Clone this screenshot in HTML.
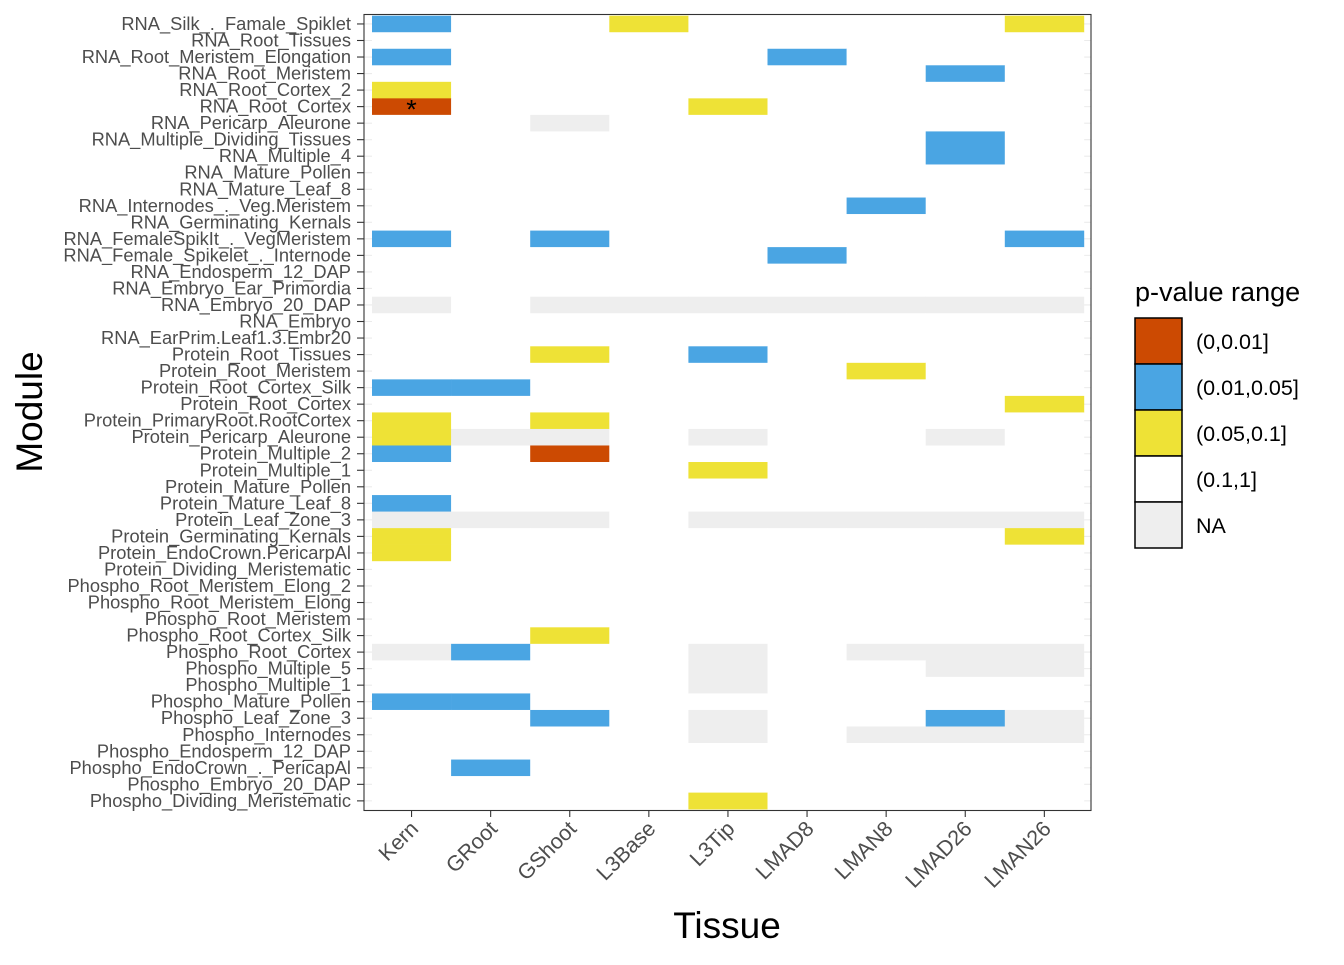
<!DOCTYPE html>
<html><head><meta charset="utf-8">
<style>
html,body{margin:0;padding:0;background:#fff;}
svg text{font-family:"Liberation Sans",Arial,sans-serif;}
</style></head>
<body>
<svg id="chart" width="1344" height="960" xmlns="http://www.w3.org/2000/svg">
  <g id="grid"></g>
  <g id="tiles"></g>
  <rect x="364" y="14.5" width="727" height="796" fill="none" stroke="#333" stroke-width="1.1"/>
  <g id="yaxis"></g>
  <g id="xaxis"></g>
  <text x="727" y="938" font-size="37" text-anchor="middle" fill="#000">Tissue</text>
  <text x="42" y="412" font-size="37" text-anchor="middle" fill="#000" transform="rotate(-90 42 412)">Module</text>
  <g id="legend">
    <text x="1135" y="301" font-size="27" fill="#000">p-value range</text>
  </g>
</svg>
<script>
const tissues = ["Kern","GRoot","GShoot","L3Base","L3Tip","LMAD8","LMAN8","LMAD26","LMAN26"];
const modules = ["RNA_Silk_._Famale_Spiklet","RNA_Root_Tissues","RNA_Root_Meristem_Elongation","RNA_Root_Meristem","RNA_Root_Cortex_2","RNA_Root_Cortex","RNA_Pericarp_Aleurone","RNA_Multiple_Dividing_Tissues","RNA_Multiple_4","RNA_Mature_Pollen","RNA_Mature_Leaf_8","RNA_Internodes_._Veg.Meristem","RNA_Germinating_Kernals","RNA_FemaleSpikIt_._VegMeristem","RNA_Female_Spikelet_._Internode","RNA_Endosperm_12_DAP","RNA_Embryo_Ear_Primordia","RNA_Embryo_20_DAP","RNA_Embryo","RNA_EarPrim.Leaf1.3.Embr20","Protein_Root_Tissues","Protein_Root_Meristem","Protein_Root_Cortex_Silk","Protein_Root_Cortex","Protein_PrimaryRoot.RootCortex","Protein_Pericarp_Aleurone","Protein_Multiple_2","Protein_Multiple_1","Protein_Mature_Pollen","Protein_Mature_Leaf_8","Protein_Leaf_Zone_3","Protein_Germinating_Kernals","Protein_EndoCrown.PericarpAl","Protein_Dividing_Meristematic","Phospho_Root_Meristem_Elong_2","Phospho_Root_Meristem_Elong","Phospho_Root_Meristem","Phospho_Root_Cortex_Silk","Phospho_Root_Cortex","Phospho_Multiple_5","Phospho_Multiple_1","Phospho_Mature_Pollen","Phospho_Leaf_Zone_3","Phospho_Internodes","Phospho_Endosperm_12_DAP","Phospho_EndoCrown_._PericapAl","Phospho_Embryo_20_DAP","Phospho_Dividing_Meristematic"];
// category codes: r=(0,0.01], b=(0.01,0.05], y=(0.05,0.1], w=(0.1,1], n=NA
const cells = [
"bwwywwwwy","wwwwwwwww","bwwwwbwww","wwwwwwwbw","ywwwwwwww","rwwwywwww","wwnwwwwww","wwwwwwwbw","wwwwwwwbw","wwwwwwwww",
"wwwwwwwww","wwwwwwbww","wwwwwwwww","bwbwwwwwb","wwwwwbwww","wwwwwwwww","wwwwwwwww","nwnnnnnnn","wwwwwwwww","wwwwwwwww",
"wwywbwwww","wwwwwwyww","bbwwwwwww","wwwwwwwwy","ywywwwwww","ynnwnwwnw","bwrwwwwww","wwwwywwww","wwwwwwwww","bwwwwwwww",
"nnnwnnnnn","ywwwwwwwy","ywwwwwwww","wwwwwwwww","wwwwwwwww","wwwwwwwww","wwwwwwwww","wwywwwwww","nbwwnwnnn","wwwwnwwnn",
"wwwwnwwww","bbwwwwwww","wwbwnwwbn","wwwwnwnnn","wwwwwwwww","wbwwwwwww","wwwwwwwww","wwwwywwww"];
const stars = [[5,0]];
const legendLabels = ["(0,0.01]","(0.01,0.05]","(0.05,0.1]","(0.1,1]","NA"];
const legendCodes = ["r","b","y","w","n"];

const colors = {r:"#CC4A02", b:"#4AA5E3", y:"#EEE236", w:"#FFFFFF", n:"#EEEEEE"};
const NS = "http://www.w3.org/2000/svg";
const colW = 79.1, x0 = 372, rowH = 16.53, y0 = 15.7;
const xPos = i => x0 + i*colW;
const xCenter = i => x0 + (i+0.5)*colW;
const yPos = j => y0 + j*rowH;
const yCenter = j => y0 + (j+0.5)*rowH;
function mk(tag, attrs, parent){const e=document.createElementNS(NS,tag);for(const k in attrs)e.setAttribute(k,attrs[k]);parent.appendChild(e);return e;}

const grid = document.getElementById('grid');
modules.forEach((m,j)=>{
  const l = mk('line',{x1:364,x2:1091,y1:yCenter(j),y2:yCenter(j),stroke:"#EBEBEB","stroke-width":1.1},grid);
  
  
});
const tiles = document.getElementById('tiles');
cells.forEach((row,j)=>{
  row.split('').forEach((c,i)=>{
    const r = mk('rect',{x:xPos(i),y:yPos(j),width:colW+0.3,height:rowH+0.3,fill:colors[c]},tiles);
    
    
  });
});
stars.forEach(([j,i])=>{
  const t = mk('text',{x:xCenter(i),y:yCenter(j)+12,"font-size":27,"text-anchor":"middle",fill:"#000"},tiles);
  t.textContent='*';
  
  
});
const ya = document.getElementById('yaxis');
modules.forEach((m,j)=>{
  const tk = mk('line',{x1:357,x2:364,y1:yCenter(j),y2:yCenter(j),stroke:"#333","stroke-width":1.1},ya);
  
  
  const t = mk('text',{x:351,y:yCenter(j)+6,"font-size":18.3,"text-anchor":"end",fill:"#4D4D4D"},ya);
  t.textContent=m;
  
  
});
const xa = document.getElementById('xaxis');
tissues.forEach((tn,i)=>{
  const tk = mk('line',{x1:xCenter(i),x2:xCenter(i),y1:810,y2:817,stroke:"#333","stroke-width":1.1},xa);
  
  
  const cx = xCenter(i)+8, cy = 830;
  const t = mk('text',{x:cx,y:cy,"font-size":21.5,"text-anchor":"end",fill:"#4D4D4D",transform:`rotate(-45 ${cx} ${cy})`},xa);
  t.textContent=tn;
  
  
});
const lg = document.getElementById('legend');
legendCodes.forEach((c,k)=>{
  const y = 318 + k*46;
  const r = mk('rect',{x:1135,y:y,width:47,height:46,fill:colors[c],stroke:"#000","stroke-width":1.5},lg);
  
  
  const t = mk('text',{x:1196,y:y+31,"font-size":21.5,fill:"#000"},lg);
  t.textContent=legendLabels[k];
  
  
});
</script>
</body></html>
